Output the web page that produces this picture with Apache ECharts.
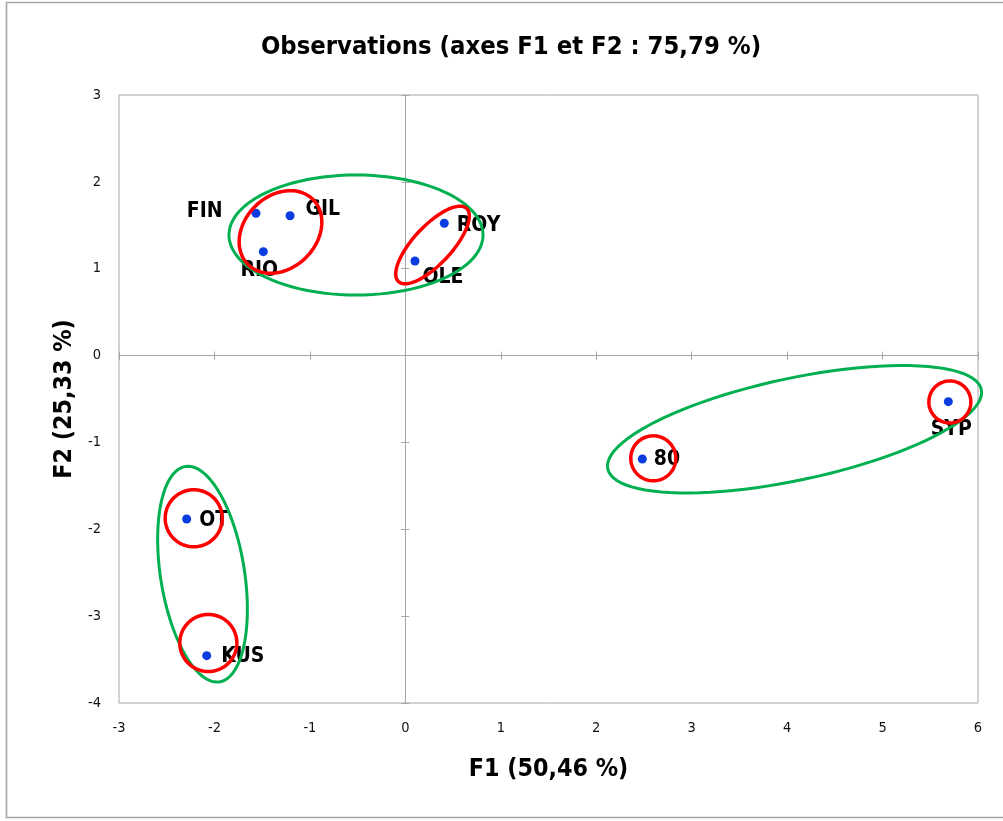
<!DOCTYPE html>
<html>
<head>
<meta charset="utf-8">
<style>html,body{margin:0;padding:0;background:#fff;overflow:hidden;}#c{width:1003px;height:821px;}</style>
<script src="https://cdn.jsdelivr.net/npm/echarts/dist/echarts.min.js"></script>
</head>
<body>
<div id="c"></div>
<script>
// ---- data ----
const names = ['FIN', 'GIL', 'RIO', 'ROY', 'OLE', '80', 'SYP', 'OT', 'KUS'];
const f1 = [-1.565, -1.208, -1.488, 0.408, 0.101, 2.483, 5.689, -2.291, -2.081];
const f2 = [1.638, 1.610, 1.196, 1.523, 1.089, -1.191, -0.531, -1.881, -3.455];
const xTickLabels = ['-3', '-2', '-1', '0', '1', '2', '3', '4', '5', '6'];
const yTickLabels = ['-4', '-3', '-2', '-1', '0', '1', '2', '3'];
// ellipses in data space: [centerX, centerY, axis1X, axis1Y, axis2X, axis2Y]
const redEllipses = [
  [-1.308, 1.423, 0.341, 0.374, 0.267, -0.294],
  [0.285, 1.273, 0.357, 0.421, 0.146, -0.149],
  [2.598, -1.183, 0.236, 0, 0, 0.259],
  [5.705, -0.534, 0.220, 0, 0, 0.242],
  [-2.217, -1.873, 0.299, 0, 0, 0.328],
  [-2.064, -3.309, 0.299, 0, 0, 0.328]
];
const greenEllipses = [
  [-0.517, 1.388, 1.331, 0, 0, 0.691],
  [4.078, -0.848, 1.957, 0.457, 0.111, -0.574],
  [-2.125, -2.517, 0.1787, -1.240, 0.4348, 0.0756]
];
const titleText = 'Observations (axes F1 et F2 : 75,79 %)';
const xName = 'F1 (50,46 %)';
const yName = 'F2 (25,33 %)';

// ---- styles ----
const condensed = "'DejaVu Sans Condensed', 'Liberation Sans Narrow', sans-serif";
const labelPlacement = {
  'FIN': { position: 'left', distance: 29, offset: [0, -2] },
  'GIL': { position: 'right', distance: 11, offset: [0, -6] },
  'RIO': { position: 'bottom', distance: 4, offset: [-4, 0] },
  'ROY': { position: 'right', distance: 8, offset: [0, 2] },
  'OLE': { position: 'right', distance: 3, offset: [0, 17] },
  '80':  { position: 'right', distance: 7, offset: [0, 1] },
  'SYP': { position: 'bottom', distance: 13, offset: [3, 0] },
  'OT':  { position: 'right', distance: 8, offset: [0, 2] },
  'KUS': { position: 'right', distance: 10, offset: [0, 1] }
};
const labelText = { fontFamily: condensed, fontWeight: 'bold', fontSize: 21, color: '#000' };

const xMin = Number(xTickLabels[0]), xMax = Number(xTickLabels[xTickLabels.length - 1]);
const yMin = Number(yTickLabels[0]), yMax = Number(yTickLabels[yTickLabels.length - 1]);

function ellipseRenderer(color, width) {
  return function (params, api) {
    const cx = api.value(0), cy = api.value(1);
    const ux = api.value(2), uy = api.value(3), vx = api.value(4), vy = api.value(5);
    const pts = [];
    const n = 96;
    for (let i = 0; i < n; i++) {
      const t = (i / n) * Math.PI * 2;
      pts.push(api.coord([cx + Math.cos(t) * ux + Math.sin(t) * vx,
                          cy + Math.cos(t) * uy + Math.sin(t) * vy]));
    }
    return {
      type: 'polygon',
      shape: { points: pts },
      style: { fill: 'none', stroke: color, lineWidth: width }
    };
  };
}

const gridLineColor = '#a6a6a6';
function baseX(extra) {
  return Object.assign({
    type: 'value', min: xMin, max: xMax, interval: 1,
    splitLine: { show: false }
  }, extra);
}
function baseY(extra) {
  return Object.assign({
    type: 'value', min: yMin, max: yMax, interval: 1,
    splitLine: { show: false }
  }, extra);
}

const chart = echarts.init(document.getElementById('c'), null, { renderer: 'canvas' });
chart.setOption({
  animation: false,
  backgroundColor: '#fff',
  graphic: [
    {
      type: 'polyline', z: -10, silent: true,
      shape: { points: [[1010, 2.5], [6.5, 2.5], [6.5, 817.5], [1010, 817.5]] },
      style: { fill: 'none', stroke: '#a6a6a6', lineWidth: 1.6 }
    },
    {
      type: 'text', x: 511, y: 35, z: 10,
      style: {
        text: titleText, textAlign: 'center', textVerticalAlign: 'top',
        font: "bold 25.4px 'DejaVu Sans Condensed', 'Liberation Sans Narrow', sans-serif",
        fill: '#000'
      }
    }
  ],
  grid: {
    left: 119, right: 25, top: 95, bottom: 118,
    show: true, borderColor: gridLineColor, borderWidth: 1,
    containLabel: false, outerBoundsMode: 'none'
  },
  xAxis: [
    baseX({
      position: 'bottom',
      axisLine: { show: false, onZero: false },
      axisTick: { show: false },
      axisLabel: { margin: 18, fontFamily: condensed, fontSize: 14.5, color: '#111' },
      name: xName, nameLocation: 'middle', nameGap: 54,
      nameTextStyle: { fontFamily: condensed, fontWeight: 'bold', fontSize: 24.8, color: '#000' }
    }),
    baseX({
      axisLine: { show: true, onZero: true, onZeroAxisIndex: 0, lineStyle: { color: gridLineColor, width: 1 } },
      axisTick: { show: true, inside: false, length: 4, lineStyle: { color: gridLineColor } },
      axisLabel: { show: false }
    }),
    baseX({
      axisLine: { show: false, onZero: true, onZeroAxisIndex: 0 },
      axisTick: { show: true, inside: true, length: 4, lineStyle: { color: gridLineColor } },
      axisLabel: { show: false }
    })
  ],
  yAxis: [
    baseY({
      position: 'left',
      axisLine: { show: false, onZero: false },
      axisTick: { show: false },
      axisLabel: { margin: 18, fontFamily: condensed, fontSize: 14.5, color: '#111' },
      name: yName, nameLocation: 'middle', nameGap: 40, nameRotate: 90,
      nameTextStyle: { fontFamily: condensed, fontWeight: 'bold', fontSize: 24.8, color: '#000' }
    }),
    baseY({
      axisLine: { show: true, onZero: true, onZeroAxisIndex: 0, lineStyle: { color: gridLineColor, width: 1 } },
      axisTick: { show: true, inside: false, length: 4, lineStyle: { color: gridLineColor } },
      axisLabel: { show: false }
    }),
    baseY({
      axisLine: { show: false, onZero: true, onZeroAxisIndex: 0 },
      axisTick: { show: true, inside: true, length: 4, lineStyle: { color: gridLineColor } },
      axisLabel: { show: false }
    })
  ],
  series: [
    {
      type: 'scatter', xAxisIndex: 0, yAxisIndex: 0, z: 2,
      symbolSize: 9,
      itemStyle: { color: '#0a3ce0', opacity: 1 },
      data: names.map((n, i) => ({
        name: n, value: [f1[i], f2[i]],
        label: Object.assign({ show: true, formatter: '{b}' }, labelText, labelPlacement[n])
      })),
      label: Object.assign({}, labelText),
      emphasis: { disabled: true }
    },
    {
      type: 'custom', xAxisIndex: 0, yAxisIndex: 0, z: 5, clip: false,
      renderItem: ellipseRenderer('#00b050', 3),
      data: greenEllipses, silent: true
    },
    {
      type: 'custom', xAxisIndex: 0, yAxisIndex: 0, z: 6, clip: false,
      renderItem: ellipseRenderer('#ff0000', 3.5),
      data: redEllipses, silent: true
    }
  ]
});
</script>
</body>
</html>
